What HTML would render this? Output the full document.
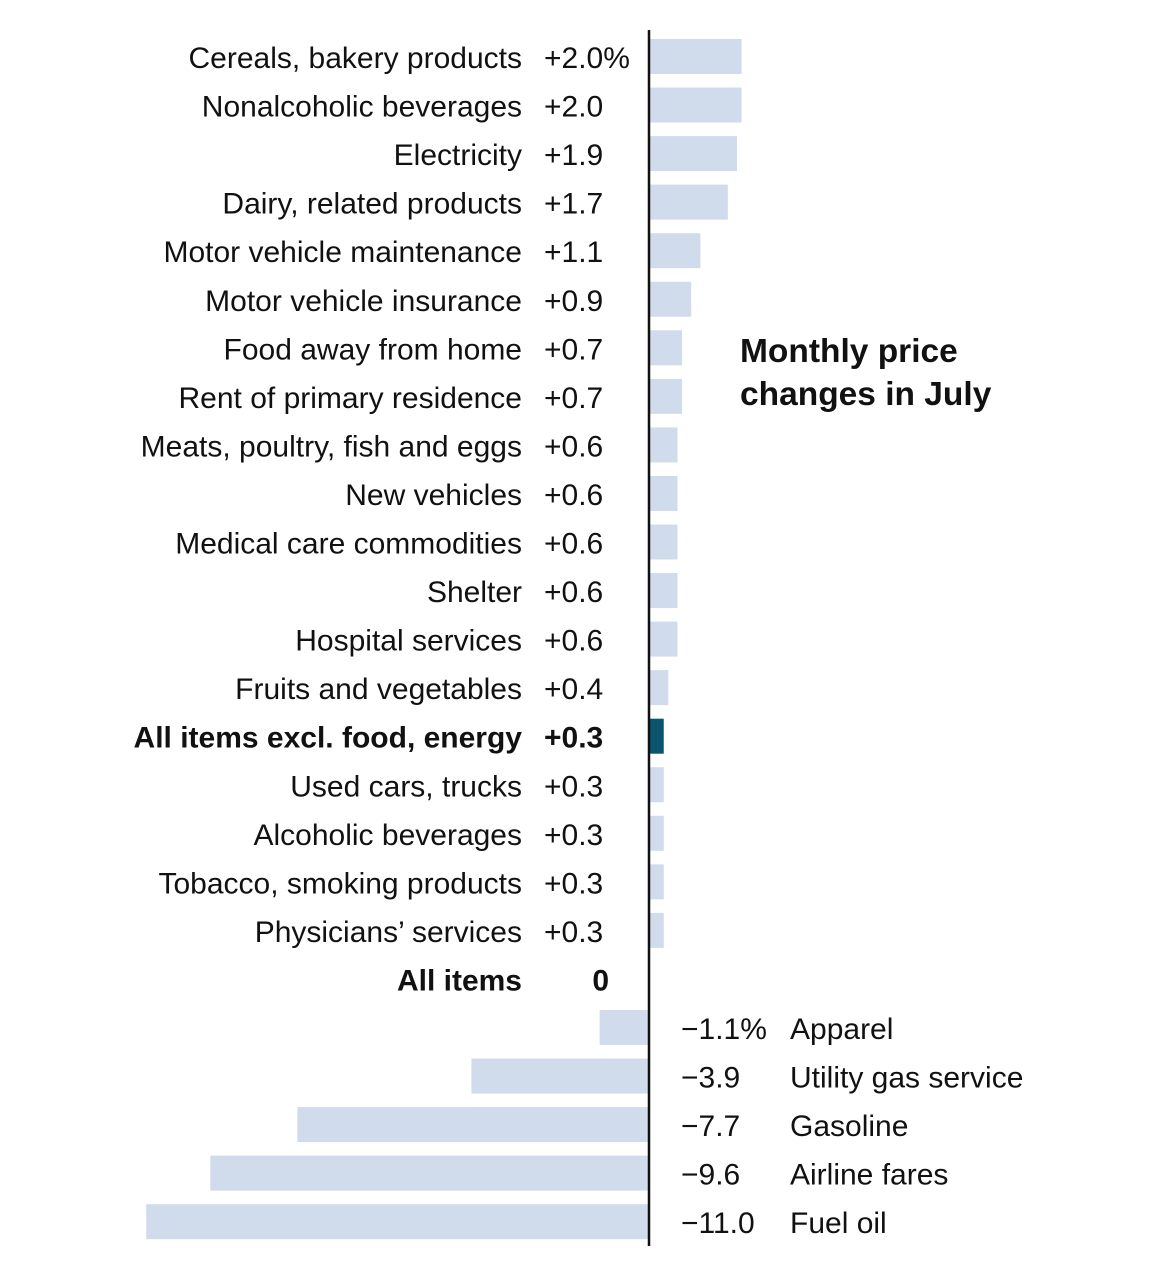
<!DOCTYPE html>
<html><head><meta charset="utf-8"><style>
html,body{margin:0;padding:0;background:#fff;}
svg{display:block;font-family:"Liberation Sans",sans-serif;}
</style></head><body>
<svg id="chart" width="1163" height="1280" viewBox="0 0 1163 1280" xmlns="http://www.w3.org/2000/svg">
<g id="bars"></g>
<g id="labels"></g>
<line x1="649" y1="30" x2="649" y2="1246" stroke="#111" stroke-width="2.5"/>
<text x="740" y="362" font-size="33.5" font-weight="bold" fill="#111">Monthly price</text>
<text x="740" y="405" font-size="33.5" font-weight="bold" fill="#111">changes in July</text>
</svg>
<script>
const categories = ["Cereals, bakery products","Nonalcoholic beverages","Electricity","Dairy, related products","Motor vehicle maintenance","Motor vehicle insurance","Food away from home","Rent of primary residence","Meats, poultry, fish and eggs","New vehicles","Medical care commodities","Shelter","Hospital services","Fruits and vegetables","All items excl. food, energy","Used cars, trucks","Alcoholic beverages","Tobacco, smoking products","Physicians\u2019 services","All items","Apparel","Utility gas service","Gasoline","Airline fares","Fuel oil"];
const values = [2.0,2.0,1.9,1.7,1.1,0.9,0.7,0.7,0.6,0.6,0.6,0.6,0.6,0.4,0.3,0.3,0.3,0.3,0.3,0,-1.1,-3.9,-7.7,-9.6,-11.0];
const valueLabels = ["+2.0%","+2.0","+1.9","+1.7","+1.1","+0.9","+0.7","+0.7","+0.6","+0.6","+0.6","+0.6","+0.6","+0.4","+0.3","+0.3","+0.3","+0.3","+0.3","0","\u22121.1%","\u22123.9","\u22127.7","\u22129.6","\u221211.0"];
const boldItems = ["All items excl. food, energy","All items"];
const highlight = ["All items excl. food, energy"];

const NS = "http://www.w3.org/2000/svg";
const x0 = 650, pxPerUnit = 45.8;
const xScale = v => x0 + v * pxPerUnit;
const rowTop = 39, rowStep = 48.55, barH = 35;
const yScale = i => rowTop + i * rowStep;
const bars = document.getElementById('bars');
const labels = document.getElementById('labels');

function txt(parent, x, y, s, anchor, bold) {
  const t = document.createElementNS(NS, 'text');
  t.setAttribute('x', x); t.setAttribute('y', y);
  t.setAttribute('font-size', '30');
  t.setAttribute('fill', '#111');
  t.setAttribute('text-anchor', anchor);
  if (bold) t.setAttribute('font-weight', 'bold');
  t.textContent = s;
  parent.appendChild(t);
  return t;
}

categories.forEach((c, i) => {
  const v = values[i];
  const y = yScale(i);
  const bold = boldItems.includes(c);
  if (v !== 0) {
    const r = document.createElementNS(NS, 'rect');
    const xa = Math.min(xScale(0), xScale(v)), xb = Math.max(xScale(0), xScale(v));
    r.setAttribute('x', xa); r.setAttribute('y', y);
    r.setAttribute('width', xb - xa); r.setAttribute('height', barH);
    r.setAttribute('fill', highlight.includes(c) ? '#0b5470' : '#d0dbec');
    
    
    bars.appendChild(r);
  }
  const ty = y + 29;
  if (v >= 0) {
    const l = txt(labels, 522, ty, c, 'end', bold);
    
    
    const vl = v === 0 ? txt(labels, 609, ty, valueLabels[i], 'end', bold) : txt(labels, 544, ty, valueLabels[i], 'start', bold);
    
    
  } else {
    const vl = txt(labels, 681, ty, valueLabels[i], 'start', bold);
    
    
    const l = txt(labels, 790, ty, c, 'start', bold);
    
    
  }
});
</script>
</body></html>
